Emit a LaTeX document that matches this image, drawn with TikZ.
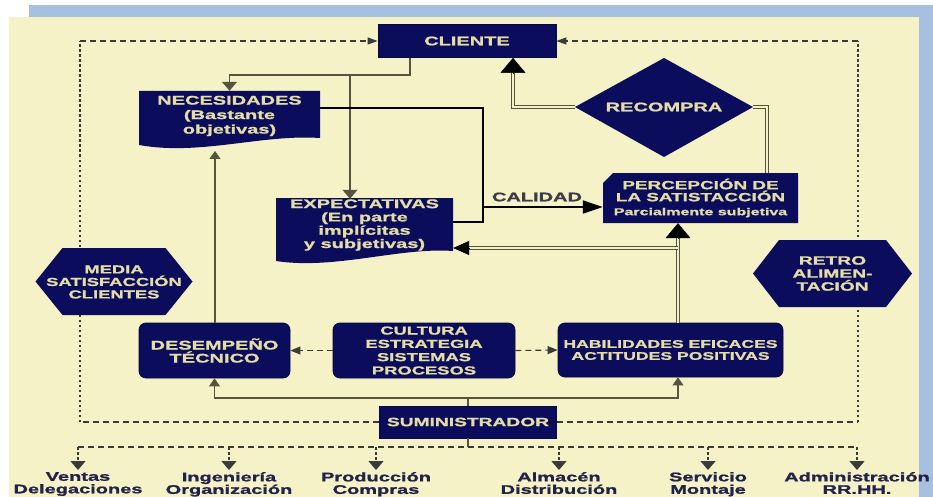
\documentclass[tikz,border=0pt]{standalone}
\usepackage{fontspec}
\setmainfont{Liberation Sans}
\newfontfamily\wfont{Liberation Sans}[FakeStretch=1.6, BoldFeatures={FakeStretch=1.6, FakeBold=1.3}]
\usetikzlibrary{arrows.meta,calc}
\definecolor{navy}{HTML}{0C0C5C}
\definecolor{navyedge}{HTML}{08083E}
\definecolor{boxtext}{HTML}{E4DDA6}
\definecolor{bgyellow}{HTML}{F4F2C6}
\definecolor{band}{HTML}{A8C0E0}
\definecolor{olive}{HTML}{55553E}
\definecolor{dashcol}{HTML}{3A3A3A}
\definecolor{lblcol}{HTML}{22224A}
\definecolor{calcol}{HTML}{3C3C48}
\newcommand{\myfs}[2]{\fontsize{#1}{#2}\selectfont}
\tikzset{
  nbox/.style={rectangle, fill=navy, draw=navyedge, line width=0.8pt, text=boxtext, align=center, inner sep=0pt, font=\wfont\bfseries\myfs{12}{13.3}},
  rbox/.style={nbox, rounded corners=7pt},
  htext/.style={rectangle, text=boxtext, align=center, inner sep=0pt, font=\wfont\bfseries\myfs{12}{13}},
  lbl/.style={text=lblcol, align=center, inner sep=0pt, font=\wfont\bfseries\myfs{12.5}{12.5}},
  conn/.style={draw=olive, line width=1.1pt},
  dbl/.style={draw=olive, double=bgyellow, double distance=1.4pt, line width=0.9pt},
  blk/.style={draw=black, line width=2.4pt},
  dshh/.style={draw=dashcol, line width=1.1pt, dash pattern=on 6pt off 4pt},
  dshv/.style={draw=dashcol, line width=1.3pt, dash pattern=on 2.5pt off 2.5pt},
  tipcli/.style={-{Triangle[length=10pt,width=7pt]}},
  tipmed/.style={-{Triangle[length=9pt,width=15pt]}},
  tipsm/.style={-{Triangle[length=8pt,width=11pt]}},
  tipdash/.style={-{Triangle[length=10pt,width=8pt]}},
  tipbig/.style={draw=black, line width=0.5pt, -{Triangle[length=15pt,width=25pt]}},
  tipexp/.style={draw=black, line width=0.5pt, -{Triangle[length=16pt,width=14pt]}},
  tipcal/.style={-{Triangle[length=20pt,width=13pt]}},
}
\begin{document}
\begin{tikzpicture}[x=1pt,y=-1pt]
\useasboundingbox (0,0) rectangle (933,497);
% background
\fill[white] (0,0) rectangle (933,497);
\fill[band] (29,5) rectangle (933,17);
\fill[band] (919,17) rectangle (933,497);
\fill[bgyellow] (9,17) rectangle (919,497);

% shaped fills
\fill[navy] (139,91) -- (320,91) -- (320,138) .. controls (262,134) and (200,156) .. (139,145) -- cycle;
\fill[navy] (276,198) -- (453,198) -- (453,251) .. controls (400,247) and (335,270) .. (276,261) -- cycle;
\fill[navy] (613,173) -- (798,173) -- (798,223) -- (603,223) -- (603,183) -- cycle;
\fill[navy] (575,107) -- (664,58) -- (753,107) -- (664,157) -- cycle;

% main nodes
\node[nbox, minimum width=178pt, minimum height=33pt, font=\wfont\bfseries\myfs{12.5}{13}] (cli) at (467,41) {CLIENTE};
\node[nbox, minimum width=177pt, minimum height=32pt] (sum) at (468,422) {SUMINISTRADOR};
\node[htext, minimum width=181pt, minimum height=50pt, font=\wfont\bfseries\myfs{12.5}{14.5}] (nec) at (229.5,116) {NECESIDADES\\(Bastante\\objetivas)};
\node[htext, minimum width=177pt, minimum height=52pt, font=\wfont\bfseries\myfs{12.5}{13.3}] (exp) at (364.5,225) {EXPECTATIVAS\\(En parte\\implícitas\\y subjetivas)};
\node[htext, minimum width=195pt, minimum height=50pt, font=\wfont\bfseries\myfs{11.8}{12}] (per) at (700.5,198) {PERCEPCIÓN DE\\LA SATISTACCIÓN\\[2pt]{\myfs{10}{12}Parcialmente subjetiva}};
\node[htext, minimum width=178pt, minimum height=99pt, font=\wfont\bfseries\myfs{12.5}{13}] (rec) at (664,107) {RECOMPRA};
\node[rbox, minimum width=151pt, minimum height=55pt, font=\wfont\bfseries\myfs{12.5}{13}] (des) at (214.5,350.5) {DESEMPEÑO\\TÉCNICO};
\node[rbox, minimum width=182pt, minimum height=55pt, font=\wfont\bfseries\myfs{11.5}{13.3}] (cul) at (424,350.5) {CULTURA\\ESTRATEGIA\\SISTEMAS\\PROCESOS};
\node[rbox, minimum width=225pt, minimum height=54pt, font=\wfont\bfseries\myfs{11}{12}] (hab) at (670.5,350) {HABILIDADES EFICACES\\ACTITUDES POSITIVAS};

% helper coordinates
\coordinate (TL) at (80,41);
\coordinate (TR) at (858,41);
\coordinate (BL) at (80,422);
\coordinate (BR) at (858,422);
\coordinate (k1) at (483,108);
\coordinate (k2) at (483,222);
\coordinate (k3) at (483,207);
\coordinate (k4) at (678,248);
\coordinate (k5) at (410,75);
\coordinate (k6) at (350,75);
\coordinate (k7) at (215,151);
\coordinate (k8) at (513,107);
\coordinate (k9) at (767,107);
\coordinate (k10) at (468,398);
\coordinate (b0) at (468,447);

% dashed loop
\draw[dshh] (sum.west) -- (BL);
\draw[dshv] (BL) -- (TL);
\draw[dshh, tipcli] (TL) -- (cli.west);
\draw[dshh] (sum.east) -- (BR);
\draw[dshv] (BR) -- (TR);
\draw[dshh, tipcli] (TR) -- (cli.east);

% hexagons (over the dashed verticals)
\fill[navy] (35.5,281.5) -- (62.5,248) -- (165.5,248) -- (192.5,281.5) -- (165.5,315) -- (62.5,315) -- cycle;
\node[htext, minimum width=157pt, minimum height=67pt, font=\wfont\bfseries\myfs{11.5}{12.5}] (media) at (114,282) {MEDIA\\SATISFACCIÓN\\CLIENTES};
\fill[navy] (753,273.5) -- (779,240) -- (886,240) -- (912,273.5) -- (886,307) -- (779,307) -- cycle;
\node[htext, minimum width=159pt, minimum height=67pt] (retro) at (832.5,273.5) {RETRO\\ALIMEN-\\TACIÓN};

% cliente -> necesidades / expectativas
\draw[conn, tipmed] (cli.south -| k5) -- (k5) -- (nec.north |- k5) -- (nec.north);
\draw[conn, tipmed] (k6) -- (k6 |- exp.north);

% thick black quality lines
\draw[blk, line join=miter] (nec.east |- k1) -- (k1) -- (k2) -- (exp.east |- k2);
\draw[draw=black, line width=2pt, tipcal] (k3) -- (k3 -| per.west);
\node[font=\wfont\bfseries\myfs{12.5}{13}, text=calcol, inner sep=0pt] (cal) at (537,197) {CALIDAD};

% recompra double lines
\draw[dbl] (rec.west) -- (k8) -- ($(k8 |- cli.south)+(0,14)$);
\draw[tipbig] ($(k8 |- cli.south)+(0,15)$) -- (k8 |- cli.south);
\draw[dbl] (rec.east) -- (k9) -- (k9 |- per.north);

% habilidades -> percepcion, branch -> expectativas
\draw[dbl] (k4 |- hab.north) -- ($(k4 |- per.south)+(0,14)$);
\draw[tipbig] ($(k4 |- per.south)+(0,15)$) -- (k4 |- per.south);
\draw[dbl] (k4) -- ($(k4 -| exp.east)+(15,0)$);
\draw[tipexp] ($(k4 -| exp.east)+(16,0)$) -- (k4 -| exp.east);

% desempeno -> necesidades
\draw[conn, tipsm] (k7 |- des.north) -- (k7);

% cultura dashed arrows
\draw[dshh, tipdash] (cul.west) -- (des.east);
\draw[dshh, tipdash] (cul.east) -- (hab.west);

% suministrador -> desempeno / habilidades
\draw[conn] (sum.north) -- (k10);
\draw[conn, tipsm] (k10) -- (des.south |- k10) -- (des.south);
\draw[conn, tipsm] (k10) -- (k4 |- k10) -- (k4 |- hab.south);

% bottom departments
\node[lbl, anchor=north] (l1) at (78,472) {Ventas\\Delegaciones};
\node[lbl, anchor=north] (l2) at (229,472) {Ingeniería\\Organización};
\node[lbl, anchor=north] (l3) at (376,472) {Producción\\Compras};
\node[lbl, anchor=north] (l4) at (559,472) {Almacén\\Distribución};
\node[lbl, anchor=north] (l5) at (708,472) {Servicio\\Montaje};
\node[lbl, anchor=north] (l6) at (857,472) {Administración\\RR.HH.};
\draw[conn] (sum.south) -- (b0);
\draw[dshh] (l1.north |- b0) -- (l6.north |- b0);
\foreach \n in {l1,l2,l3,l4,l5,l6}{
  \draw[dshv, tipmed] (\n.north |- b0) -- ([yshift=2pt]\n.north);
}
\end{tikzpicture}
\end{document}
